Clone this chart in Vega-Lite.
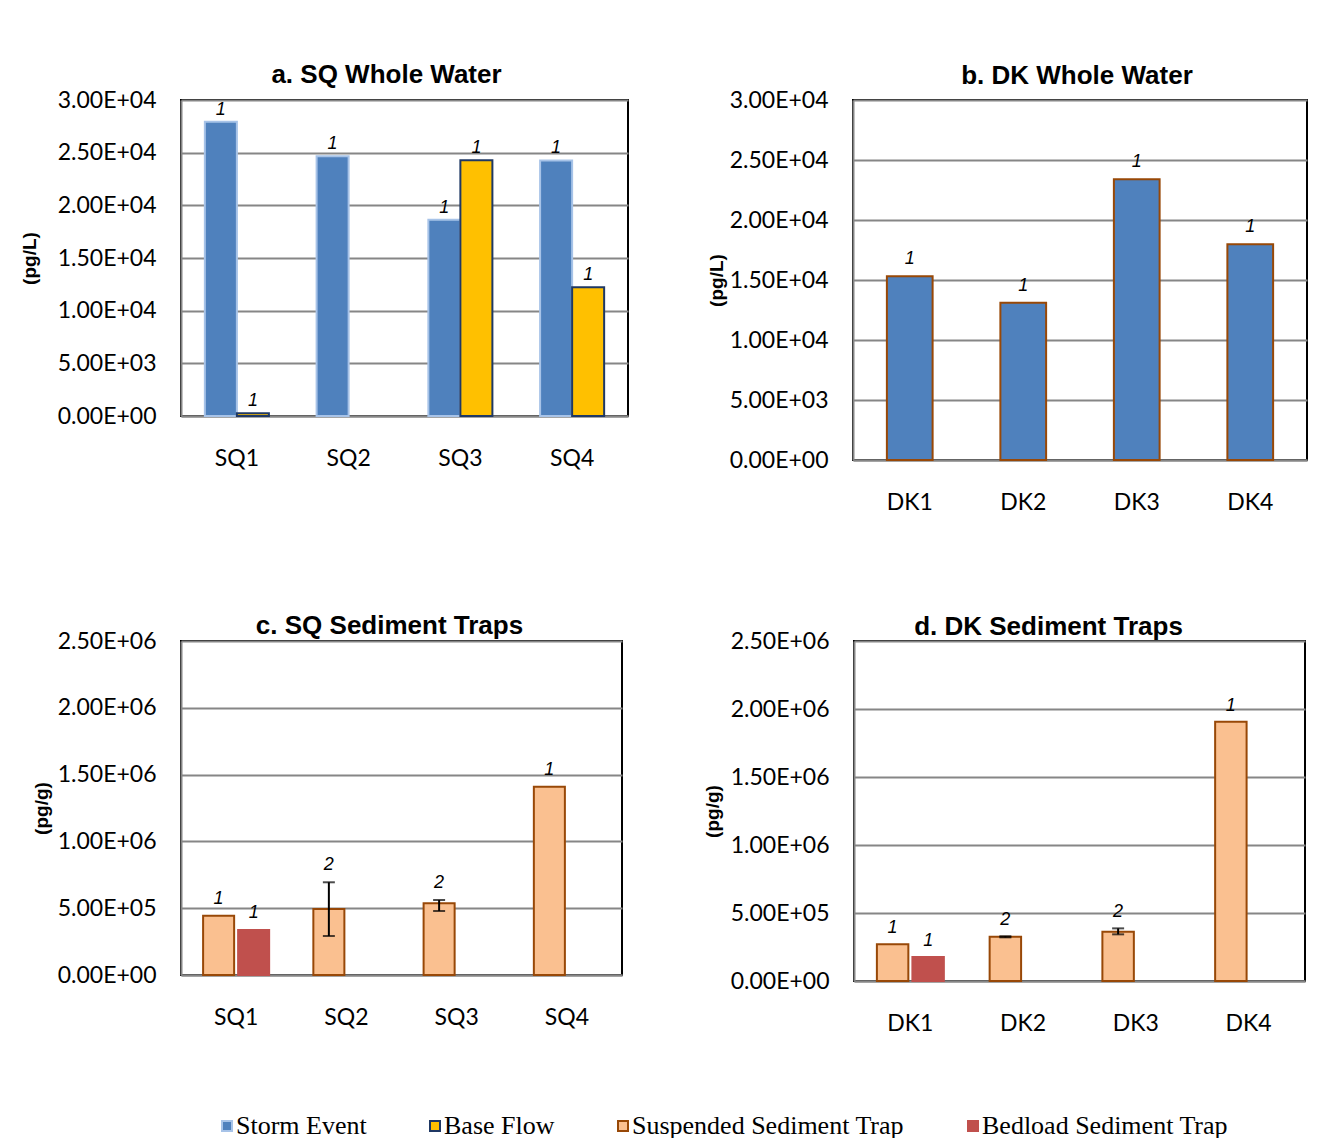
{
  "$schema": "https://vega.github.io/schema/vega-lite/v6.json",
  "padding": {"left": 19, "top": 61, "right": 0, "bottom": 0},
  "background": "#ffffff",
  "datasets": {
    "wa": [
      {"site": "SQ1", "series": "Storm Event", "value": 27930, "top": 27930, "n": "1"},
      {"site": "SQ1", "series": "Base Flow", "value": 250, "top": 250, "n": "1"},
      {"site": "SQ2", "series": "Storm Event", "value": 24670, "top": 24670, "n": "1"},
      {"site": "SQ3", "series": "Storm Event", "value": 18640, "top": 18640, "n": "1"},
      {"site": "SQ3", "series": "Base Flow", "value": 24290, "top": 24290, "n": "1"},
      {"site": "SQ4", "series": "Storm Event", "value": 24260, "top": 24260, "n": "1"},
      {"site": "SQ4", "series": "Base Flow", "value": 12220, "top": 12220, "n": "1"}
    ],
    "wb": [
      {"site": "DK1", "series": "Storm Event", "value": 15310, "top": 15310, "n": "1"},
      {"site": "DK2", "series": "Storm Event", "value": 13105, "top": 13105, "n": "1"},
      {"site": "DK3", "series": "Storm Event", "value": 23405, "top": 23405, "n": "1"},
      {"site": "DK4", "series": "Storm Event", "value": 17980, "top": 17980, "n": "1"}
    ],
    "wc": [
      {"site": "SQ1", "series": "Suspended Sediment Trap", "value": 444000, "top": 444000, "n": "1"},
      {"site": "SQ1", "series": "Bedload Sediment Trap", "value": 337000, "top": 337000, "n": "1"},
      {"site": "SQ2", "series": "Suspended Sediment Trap", "value": 494000, "lo": 292000, "hi": 694000, "top": 694000, "n": "2"},
      {"site": "SQ3", "series": "Suspended Sediment Trap", "value": 537000, "lo": 479000, "hi": 561000, "top": 561000, "n": "2"},
      {"site": "SQ4", "series": "Suspended Sediment Trap", "value": 1409000, "top": 1409000, "n": "1"}
    ],
    "wd": [
      {"site": "DK1", "series": "Suspended Sediment Trap", "value": 270000, "top": 270000, "n": "1"},
      {"site": "DK1", "series": "Bedload Sediment Trap", "value": 176000, "top": 176000, "n": "1"},
      {"site": "DK2", "series": "Suspended Sediment Trap", "value": 325000, "lo": 321000, "hi": 329000, "top": 329000, "n": "2"},
      {"site": "DK3", "series": "Suspended Sediment Trap", "value": 362000, "lo": 343000, "hi": 387000, "top": 387000, "n": "2"},
      {"site": "DK4", "series": "Suspended Sediment Trap", "value": 1907000, "top": 1907000, "n": "1"}
    ]
  },
  "resolve": {"scale": {"xOffset": "independent", "y": "independent", "x": "independent"}},
  "spacing": 97,
  "vconcat": [
    {
      "hconcat": [
        {
          "width": 447, "height": 316,
          "title": {"text": "a. SQ Whole Water", "offset": 1, "dx": -18},
          "data": {"name": "wa"},
          "encoding": {
            "x": {"field": "site", "type": "nominal", "scale": {"paddingInner": 0.427, "paddingOuter": 0.2135}},
            "xOffset": {"field": "series", "type": "nominal", "scale": {"domain": ["Storm Event", "Base Flow"], "paddingInner": 0, "paddingOuter": 0}}
          },
          "layer": [
            {
              "mark": {"type": "bar", "strokeWidth": 2},
              "encoding": {
                "y": {"field": "value", "type": "quantitative", "scale": {"domain": [0, 30000], "padding": 0, "nice": false},
                  "axis": {"title": "(pg/L)", "titlePadding": 18, "values": [0, 5000, 10000, 15000, 20000, 25000, 30000]}},
                "fill": {"field": "series", "type": "nominal",
                  "scale": {"domain": ["Storm Event", "Base Flow", "Suspended Sediment Trap", "Bedload Sediment Trap"], "range": ["#4F81BD", "#FFC000", "#FAC090", "#C0504D"]},
                  "legend": {"orient": "none", "legendX": 33, "legendY": 1013, "direction": "horizontal", "columns": 4, "title": null}},
                "stroke": {"field": "series", "type": "nominal",
                  "scale": {"domain": ["Storm Event", "Base Flow", "Suspended Sediment Trap", "Bedload Sediment Trap"], "range": ["#A7C3E8", "#1F3864", "#984807", "#C0504D"]},
                  "legend": {"orient": "none", "legendX": 33, "legendY": 1013, "direction": "horizontal", "columns": 4, "title": null}}
              }
            },
            {
              "mark": {"type": "text", "baseline": "bottom", "dy": -3, "font": "Liberation Sans", "fontStyle": "italic", "fontSize": 18, "color": "#000"},
              "encoding": {
                "y": {"field": "top", "type": "quantitative", "axis": {"title": "(pg/L)"}},
                "text": {"field": "n"}
              }
            }
          ]
        },
        {
          "width": 454, "height": 360,
          "title": {"text": "b. DK Whole Water", "offset": 0, "dx": -3},
          "data": {"name": "wb"},
          "encoding": {
            "x": {"field": "site", "type": "nominal", "scale": {"paddingInner": 0.597, "paddingOuter": 0.2985}}
          },
          "layer": [
            {
              "mark": {"type": "bar", "strokeWidth": 2, "stroke": "#984807"},
              "encoding": {
                "y": {"field": "value", "type": "quantitative", "scale": {"domain": [0, 30000], "padding": 0, "nice": false},
                  "axis": {"title": "(pg/L)", "titlePadding": 3, "values": [0, 5000, 10000, 15000, 20000, 25000, 30000]}},
                "fill": {"field": "series", "type": "nominal"}
              }
            },
            {
              "mark": {"type": "text", "baseline": "bottom", "dy": -8, "font": "Liberation Sans", "fontStyle": "italic", "fontSize": 18, "color": "#000"},
              "encoding": {
                "y": {"field": "top", "type": "quantitative", "axis": {"title": "(pg/L)"}},
                "text": {"field": "n"}
              }
            }
          ]
        }
      ],
      "spacing": 77,
      "resolve": {"scale": {"xOffset": "independent", "y": "independent", "x": "independent"}}
    },
    {
      "hconcat": [
        {
          "width": 441, "height": 334,
          "title": {"text": "c. SQ Sediment Traps", "offset": -9, "dx": -12},
          "data": {"name": "wc"},
          "encoding": {
            "x": {"field": "site", "type": "nominal", "scale": {"paddingInner": 0.401, "paddingOuter": 0.2005}},
            "xOffset": {"field": "series", "type": "nominal", "scale": {"domain": ["Suspended Sediment Trap", "Bedload Sediment Trap"], "paddingInner": 0.114, "paddingOuter": 0}}
          },
          "layer": [
            {
              "mark": {"type": "bar", "strokeWidth": 2},
              "encoding": {
                "y": {"field": "value", "type": "quantitative", "scale": {"domain": [0, 2500000], "padding": 0, "nice": false},
                  "axis": {"title": "(pg/g)", "titlePadding": 6, "values": [0, 500000, 1000000, 1500000, 2000000, 2500000]}},
                "fill": {"field": "series", "type": "nominal"},
                "stroke": {"field": "series", "type": "nominal"}
              }
            },
            {
              "transform": [{"filter": "isValid(datum.lo)"}],
              "mark": {"type": "rule", "color": "#000", "strokeWidth": 2},
              "encoding": {
                "y": {"field": "lo", "type": "quantitative", "axis": {"title": "(pg/g)"}},
                "y2": {"field": "hi"}
              }
            },
            {
              "transform": [{"filter": "isValid(datum.lo)"}],
              "mark": {"type": "tick", "color": "#000", "thickness": 2, "size": 12, "orient": "horizontal"},
              "encoding": {"y": {"field": "lo", "type": "quantitative", "axis": {"title": "(pg/g)"}}}
            },
            {
              "transform": [{"filter": "isValid(datum.lo)"}],
              "mark": {"type": "tick", "color": "#000", "thickness": 2, "size": 12, "orient": "horizontal"},
              "encoding": {"y": {"field": "hi", "type": "quantitative", "axis": {"title": "(pg/g)"}}}
            },
            {
              "mark": {"type": "text", "baseline": "bottom", "dy": -8, "font": "Liberation Sans", "fontStyle": "italic", "fontSize": 18, "color": "#000"},
              "encoding": {
                "y": {"field": "top", "type": "quantitative", "axis": {"title": "(pg/g)"}},
                "text": {"field": "n"}
              }
            }
          ]
        },
        {
          "width": 451, "height": 340,
          "title": {"text": "d. DK Sediment Traps", "offset": -10, "dx": -31},
          "data": {"name": "wd"},
          "encoding": {
            "x": {"field": "site", "type": "nominal", "scale": {"paddingInner": 0.406, "paddingOuter": 0.203}},
            "xOffset": {"field": "series", "type": "nominal", "scale": {"domain": ["Suspended Sediment Trap", "Bedload Sediment Trap"], "paddingInner": 0.114, "paddingOuter": 0}}
          },
          "layer": [
            {
              "mark": {"type": "bar", "strokeWidth": 2},
              "encoding": {
                "y": {"field": "value", "type": "quantitative", "scale": {"domain": [0, 2500000], "padding": 0, "nice": false},
                  "axis": {"title": "(pg/g)", "titlePadding": 8, "values": [0, 500000, 1000000, 1500000, 2000000, 2500000]}},
                "fill": {"field": "series", "type": "nominal"},
                "stroke": {"field": "series", "type": "nominal"}
              }
            },
            {
              "transform": [{"filter": "isValid(datum.lo)"}],
              "mark": {"type": "rule", "color": "#000", "strokeWidth": 2},
              "encoding": {
                "y": {"field": "lo", "type": "quantitative", "axis": {"title": "(pg/g)"}},
                "y2": {"field": "hi"}
              }
            },
            {
              "transform": [{"filter": "isValid(datum.lo)"}],
              "mark": {"type": "tick", "color": "#000", "thickness": 2, "size": 12, "orient": "horizontal"},
              "encoding": {"y": {"field": "lo", "type": "quantitative", "axis": {"title": "(pg/g)"}}}
            },
            {
              "transform": [{"filter": "isValid(datum.lo)"}],
              "mark": {"type": "tick", "color": "#000", "thickness": 2, "size": 12, "orient": "horizontal"},
              "encoding": {"y": {"field": "hi", "type": "quantitative", "axis": {"title": "(pg/g)"}}}
            },
            {
              "mark": {"type": "text", "baseline": "bottom", "dy": -7, "font": "Liberation Sans", "fontStyle": "italic", "fontSize": 18, "color": "#000"},
              "encoding": {
                "y": {"field": "top", "type": "quantitative", "axis": {"title": "(pg/g)"}},
                "text": {"field": "n"}
              }
            }
          ]
        }
      ],
      "spacing": 79,
      "resolve": {"scale": {"xOffset": "independent", "y": "independent", "x": "independent"}}
    }
  ],
  "config": {
    "font": "Lato",
    "view": {"stroke": "#000000", "strokeWidth": 2},
    "axis": {
      "labelFont": "Lato", "labelFontSize": 23, "labelColor": "#000000",
      "ticks": false, "domainColor": "#868686", "domainWidth": 2,
      "gridColor": "#868686", "gridWidth": 2,
      "titleFont": "Liberation Sans", "titleFontWeight": "bold", "titleFontSize": 19, "titleColor": "#000000"
    },
    "axisX": {"labelAngle": 0, "labelPadding": 31, "title": null, "grid": false},
    "axisY": {"labelPadding": 25, "grid": true, "labelExpr": "replace(upper(format(datum.value, '.2e')), 'E+', 'E+0')"},
    "title": {"font": "Liberation Sans", "fontSize": 26, "fontWeight": "bold", "color": "#000000", "frame": "group", "anchor": "middle"},
    "legend": {
      "labelFont": "Liberation Serif", "labelFontSize": 26, "labelColor": "#000000", "labelLimit": 500,
      "symbolType": "square", "symbolSize": 100, "symbolStrokeWidth": 2,
      "columnPadding": 55, "labelOffset": -4, "padding": 0
    }
  }
}
